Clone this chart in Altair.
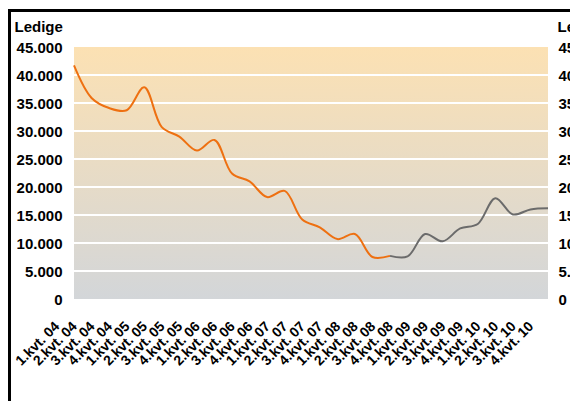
import altair as alt
import pandas as pd

quarters = [
    "1.kvt. 04", "2.kvt. 04", "3.kvt. 04", "4.kvt. 04",
    "1.kvt. 05", "2.kvt. 05", "3.kvt. 05", "4.kvt. 05",
    "1.kvt. 06", "2.kvt. 06", "3.kvt. 06", "4.kvt. 06",
    "1.kvt. 07", "2.kvt. 07", "3.kvt. 07", "4.kvt. 07",
    "1.kvt. 08", "2.kvt. 08", "3.kvt. 08", "4.kvt. 08",
    "1.kvt. 09", "2.kvt. 09", "3.kvt. 09", "4.kvt. 09",
    "1.kvt. 10", "2.kvt. 10", "3.kvt. 10", "4.kvt. 10",
]
# actual (orange) 1.kvt.04 .. 3.kvt.08
hist_values = [41700, 35900, 34100, 33700, 37800, 30700, 29000, 26500,
               28400, 22400, 21000, 18200, 19300, 14200, 12800, 10700,
               11600, 7500, 7700]
# forecast (grey) 3.kvt.08 .. 4.kvt.10
prog_values = [7700, 7600, 11600, 10300, 12600, 13400, 18000, 15100,
               16000, 16200]
y_ticks = [0, 5000, 10000, 15000, 20000, 25000, 30000, 35000, 40000, 45000]
grid_values = [5000, 10000, 15000, 20000, 25000, 30000, 35000, 40000]

n_hist = len(hist_values)
rows = []
for i, v in enumerate(hist_values):
    rows.append({"q": quarters[i], "v": v, "s": "hist"})
for j, v in enumerate(prog_values):
    rows.append({"q": quarters[n_hist - 1 + j], "v": v, "s": "prog"})
lines_df = pd.DataFrame(rows)

FONT = "Liberation Sans"
W, H = 474, 252
ORANGE = "#EE7011"
GREY = "#6B6B6B"
fmt = "replace(format(datum.value, ','), ',', '.')"
yscale = alt.Scale(domain=[0, 45000], nice=False, zero=True)

common_axis = dict(
    title="Ledige", titleAngle=0, titleY=-21, titleBaseline="middle",
    titleAlign="left", titleFont=FONT, titleFontSize=15, titleFontWeight="bold",
    titleColor="black", labelFont=FONT, labelFontSize=15, labelFontWeight="bold",
    labelColor="black", ticks=False, domain=False, grid=False, values=y_ticks,
    labelExpr=fmt,
)
left_axis = alt.Axis(orient="left", titleX=-60, labelPadding=12, **common_axis)
right_axis = alt.Axis(orient="right", titleX=9, labelPadding=10, **common_axis)

bg = alt.Chart(pd.DataFrame({"lo": [0], "hi": [45000]})).mark_rect(
    color=alt.Gradient(
        gradient="linear",
        stops=[alt.GradientStop(color="#FCE1B3", offset=0),
               alt.GradientStop(color="#D3D6D9", offset=1)],
        x1=0, x2=0, y1=0, y2=1,
    )
).encode(
    x=alt.value(0), x2=alt.value(W),
    y=alt.Y("hi:Q", scale=yscale, axis=left_axis),
    y2="lo:Q",
)

grid = alt.Chart(pd.DataFrame({"v": grid_values})).mark_rule(
    color="white", strokeWidth=2
).encode(y=alt.Y("v:Q", scale=yscale, axis=None))

line = alt.Chart(lines_df).mark_line(
    interpolate="catmull-rom", strokeWidth=2
).encode(
    x=alt.X("q:N", sort=quarters,
            scale=alt.Scale(type="point", padding=0, domain=quarters),
            axis=alt.Axis(title=None, labelAngle=-45, labelAlign="right",
                          labelBaseline="top", labelFont=FONT, labelFontSize=14,
                          labelFontWeight="bold", labelColor="black",
                          labelPadding=20, labelOffset=-22, ticks=False,
                          domain=False, grid=False, labelOverlap=False)),
    y=alt.Y("v:Q", scale=yscale, axis=right_axis),
    color=alt.Color("s:N", scale=alt.Scale(domain=["hist", "prog"],
                                            range=[ORANGE, GREY]), legend=None),
)

frame = alt.Chart(pd.DataFrame({"a": [0]})).mark_rect(
    fill="transparent", stroke="black", strokeWidth=3
).encode(
    x=alt.value(-64.5), x2=alt.value(700), y=alt.value(-36.5), y2=alt.value(700)
)

chart = alt.layer(bg, grid, line, frame).resolve_scale(
    y="shared"
).resolve_axis(y="independent").properties(
    width=W, height=H,
    autosize=alt.AutoSizeParams(type="none"),
    padding={"left": 66, "top": 39, "right": 22, "bottom": 102},
    background="white",
).configure_view(stroke=None)

chart.save("out.html", embed_options={"renderer": "svg", "actions": False})
